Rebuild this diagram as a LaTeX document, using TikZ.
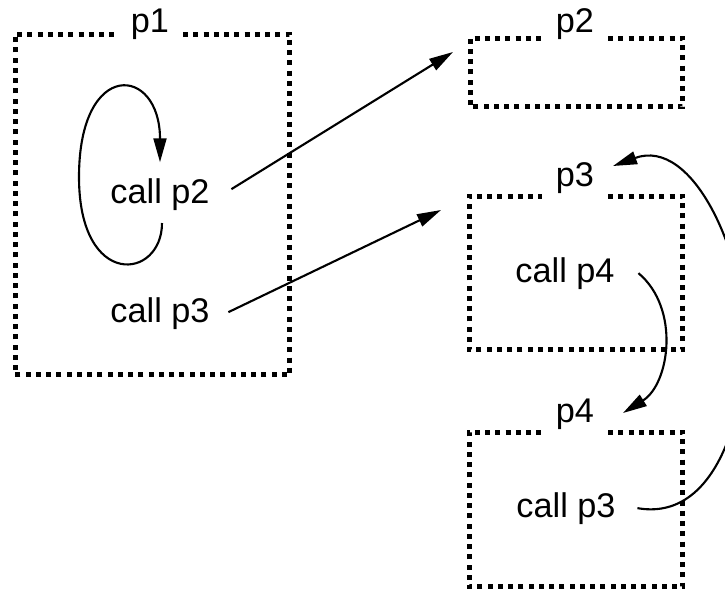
\documentclass[tikz,border=0pt]{standalone}
\usepackage{fontspec}
\setmainfont{Liberation Sans}
\usetikzlibrary{arrows.meta}

\begin{document}
\begin{tikzpicture}[x=0.02cm, y=-0.02cm, line width=1.2pt, -{Triangle[length=0.48cm,width=0.26cm]},
  frame/.style={inner sep=0pt, outer sep=0pt},
  dots/.style={-, line width=0.1cm, dash pattern=on 0.1cm off 0.105cm},
  call node/.style={font=\fontsize{19.5}{23}\selectfont, anchor=base},
  head node/.style={font=\fontsize{19.5}{23}\selectfont, anchor=base, inner xsep=0.26cm}]

\useasboundingbox (0,0) rectangle (725,591);
\clip (0,0) rectangle (725,591);

\node[frame, minimum width=5.5cm, minimum height=6.82cm] (b1) at (152.5,204.5) {};
\node[head node] (p1) at (150,33) {p1};
\node[call node] (c2) at (160,204) {call p2};
\node[call node] (c3) at (160,323) {call p3};

\node[frame, minimum width=4.26cm, minimum height=1.38cm] (b2) at (576.5,72.5) {};
\node[head node] (p2) at (575,33) {p2};

\node[frame, minimum width=4.28cm, minimum height=3.08cm] (b3) at (576,273) {};
\node[head node] (p3) at (575,187) {p3};
\node[call node] (c4) at (565,283) {call p4};

\node[frame, minimum width=4.28cm, minimum height=3.1cm] (b4) at (576,509.5) {};
\node[head node] (p4) at (575,423) {p4};
\node[call node] (c5) at (566,518) {call p3};

% dotted outlines, open where the name sits
\foreach \b/\p in {b1/p1, b2/p2, b3/p3, b4/p4}
  \draw[dots] (\p.east |- \b.north) -| (\b.south east) -| (\b.north west) -- (\p.west |- \b.north);

\draw ([shift={(2,5)}]c2.south) .. controls +(0,57) and +(0,113) .. (79,177)
  .. controls +(0,-119) and +(0,-97) .. ([shift={(0,-10)}]c2.north);

\draw ([shift={(15,-6)}]c2.east) -- ([shift={(-17,14)}]b2.north west);
\draw ([shift={(12,-2)}]c3.east) -- ([shift={(-28,14)}]b3.north west);

\draw ([shift={(17,-1)}]c4.east) to[out=-40, in=32] ([shift={(-60,-19)}]b4.north east);
\draw ([shift={(15,-1)}]c5.east) to[out=-10, in=-90] (745,340) to[out=90, in=20] ([shift={(-70,-30)}]b3.north east);

\end{tikzpicture}
\end{document}
